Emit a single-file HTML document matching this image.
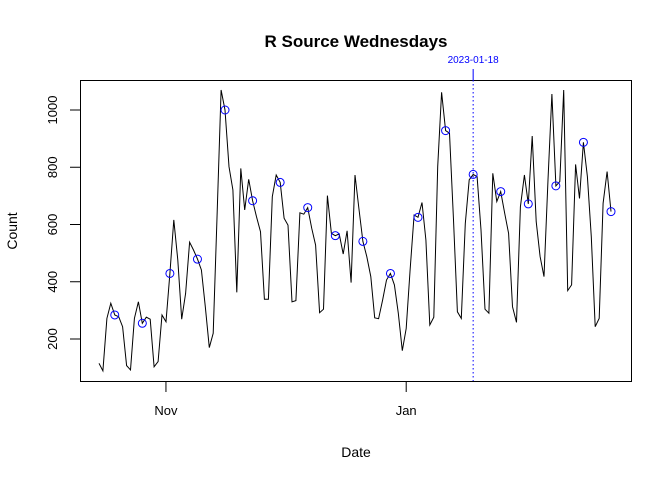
<!DOCTYPE html>
<html><head><meta charset="utf-8"><style>
body{margin:0;background:#fff}
svg{display:block;font-family:"Liberation Sans",Arial,sans-serif}
</style></head><body>
<svg id="chart" width="672" height="480" viewBox="0 0 672 480" xmlns="http://www.w3.org/2000/svg">
<text x="356" y="47" text-anchor="middle" font-size="17" font-weight="bold">R Source Wednesdays</text>
<rect x="80.5" y="80.5" width="551" height="301" fill="none" stroke="#000" stroke-width="1"/>
<g id="yaxis"></g>
<g id="xaxis"></g>
<text x="0" y="0" transform="translate(17,231) rotate(-90)" text-anchor="middle" font-size="14">Count</text>
<text x="356" y="457" text-anchor="middle" font-size="14">Date</text>
<g id="marks"></g>
</svg>
<script>
const startDate = "2022-10-15";
const counts = [115,89,272,325,284,278,243,107,92,272,330,255,276,269,103,121,284,260,429,616,476,269,359,538,511,479,441,313,170,220,645,1070,1000,802,721,363,796,651,758,683,627,575,339,339,697,773,747,622,598,330,334,641,636,659,587,528,292,304,701,569,561,567,497,578,397,773,656,541,488,418,274,271,336,406,429,389,290,159,237,441,633,625,677,546,249,276,802,1062,928,919,616,295,272,604,756,775,767,581,304,290,779,680,715,639,569,313,258,662,773,672,909,610,488,418,756,1056,735,750,1070,369,389,810,691,887,767,557,243,272,674,785,645];
const yTicks = [200,400,600,800,1000];
const xTickLabels = ["Nov","Jan"];
const xTickDays = [17,78];
const markerDate = "2023-01-18";
const markerDay = 95;
const wedOffset = 4;

const NS="http://www.w3.org/2000/svg";
const xs=d=>99+(d)*(512/130);
const ys=v=>339-(v-200)*(229/800);
function el(tag,attrs,parent){const e=document.createElementNS(NS,tag);for(const k in attrs)e.setAttribute(k,attrs[k]);parent.appendChild(e);return e;}
const yax=document.getElementById('yaxis'),xax=document.getElementById('xaxis'),marks=document.getElementById('marks');
yTicks.forEach(t=>{
  const l=el('line',{x1:70,x2:80,y1:ys(t),y2:ys(t),stroke:'#000'},yax);
  
  
  const tx=el('text',{x:0,y:0,transform:`translate(57,${ys(t)}) rotate(-90)`,'text-anchor':'middle','font-size':'13'},yax);
  tx.textContent=t;
  
  
});
xTickDays.forEach((d,i)=>{
  const l=el('line',{x1:xs(d),x2:xs(d),y1:381,y2:392,stroke:'#000'},xax);
  
  
  const tx=el('text',{x:xs(d),y:415,'text-anchor':'middle','font-size':'13'},xax);
  tx.textContent=xTickLabels[i];
  
  
});
const mk=el('line',{x1:xs(markerDay),x2:xs(markerDay),y1:69,y2:80,stroke:'#00f'},marks);


const ml=el('line',{x1:xs(markerDay),x2:xs(markerDay),y1:80,y2:381,stroke:'#00f','stroke-dasharray':'1.5,2.5'},marks);


const mt=el('text',{x:xs(markerDay),y:63,'text-anchor':'middle','font-size':'10',fill:'#00f'},marks);
mt.textContent=markerDate;


const pts=counts.map((v,i)=>xs(i).toFixed(1)+','+ys(v).toFixed(1)).join(' ');
const pl=el('polyline',{points:pts,fill:'none',stroke:'#000','stroke-width':1},marks);


counts.forEach((v,i)=>{
  if(i%7!==wedOffset)return;
  const c=el('circle',{cx:xs(i),cy:ys(v),r:4,fill:'none',stroke:'#00f','stroke-width':1},marks);
  
  
});
</script>
</body></html>
